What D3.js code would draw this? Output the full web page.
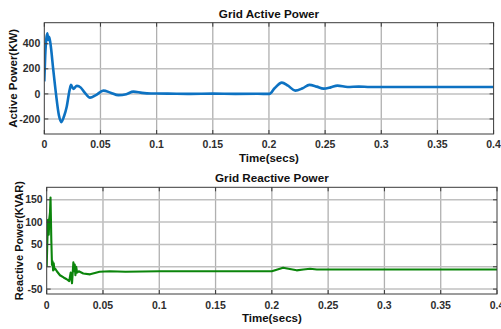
<!DOCTYPE html>
<html>
<head>
<meta charset="utf-8">
<script src="https://cdn.jsdelivr.net/npm/d3@7"></script>
<style>
  body { margin: 0; background: #fff; }
  svg { display: block; font-family: "Liberation Sans", Arial, sans-serif; }
  .tick-label { font-size: 10.5px; font-weight: bold; fill: #2e2e2e; }
  .title, .xlabel, .ylabel { font-weight: bold; fill: #111; }
</style>
</head>
<body>
<svg id="chart"></svg>
<script>
// Data
const xTicks = [0, 0.05, 0.1, 0.15, 0.2, 0.25, 0.3, 0.35, 0.4];
const xTickLabels = ['0', '0.05', '0.1', '0.15', '0.2', '0.25', '0.3', '0.35', '0.4'];

const activeTime = [0, 0.0008, 0.0018, 0.0027, 0.0035, 0.0043, 0.0055, 0.008, 0.0104, 0.013, 0.0152, 0.0175,
    0.02, 0.0225, 0.0238, 0.0258, 0.029, 0.0325, 0.036, 0.0407, 0.046, 0.0526, 0.059, 0.066, 0.073, 0.0793,
    0.087, 0.095, 0.11, 0.13, 0.15, 0.17, 0.19, 0.2, 0.2004, 0.205, 0.2115, 0.217, 0.2234, 0.23, 0.236,
    0.2425, 0.2486, 0.255, 0.261, 0.27, 0.28, 0.29, 0.3, 0.35, 0.4];
const activePower = [100, 300, 440, 484, 430, 456, 400, 191, 0, -170, -225, -180,
    -100, 30, 72, 40, 64, 50, 10, -30, -10, 26, 10, -10, -2, 18,
    8, 3, 2, 0, 2, 0, 1, 0, 0, 45, 90, 65, 26, 45, 72,
    58, 42, 52, 66, 55, 58, 55, 55, 55, 55];
const activeTicks = [-200, 0, 200, 400];

const reactiveTime = [0, 0.0006, 0.0012, 0.0018, 0.0024, 0.0029, 0.0034, 0.0041, 0.0047, 0.0052, 0.0057, 0.0062,
    0.0068, 0.0075, 0.009, 0.0118, 0.015, 0.0178, 0.02, 0.0213, 0.0225, 0.0237, 0.0243, 0.0249, 0.0255,
    0.0262, 0.027, 0.0285, 0.0325, 0.0385, 0.047, 0.056, 0.07, 0.1, 0.15, 0.2, 0.205, 0.21, 0.216,
    0.222, 0.228, 0.234, 0.24, 0.25, 0.3, 0.35, 0.4];
const reactivePower = [0, 60, 105, 72, 110, 120, 155, 60, 4, 12, -8, 8,
    -6, -4, -10, -19, -24, -28, -32, -13, -37, 10, -10, 5, -19,
    0, -13, -10, -15, -17, -11, -10, -11, -10, -10, -10, -6, -2, -5,
    -8, -6, -4.5, -6, -6, -6, -6, -6];
const reactiveTicks = [-50, 0, 50, 100, 150];

const width = 501, height = 329;
const svg = d3.select('#chart').attr('width', width).attr('height', height);

const panels = [
    {
        id: 'p', title: 'Grid Active Power', ylabel: 'Active Power(KW)',
        time: activeTime, values: activePower, yTicks: activeTicks, yDomain: [-320, 568],
        left: 44.3, right: 493.6, top: 22.7, bottom: 134,
        color: '#0d72c2', lineWidth: 2.6, curve: d3.curveMonotoneX,
        titleY: 18, xlabelY: 162, tickY: 148, ylabelX: 16.5, ylabelSize: 11.5
    },
    {
        id: 'q', title: 'Grid Reactive Power', ylabel: 'Reactive Power(KVAR)',
        time: reactiveTime, values: reactivePower, yTicks: reactiveTicks, yDomain: [-61, 178],
        left: 46.7, right: 497, top: 187.3, bottom: 294,
        color: '#0b850b', lineWidth: 2.1, curve: d3.curveLinear,
        titleY: 182, xlabelY: 322, tickY: 308.5, ylabelX: 22.5, ylabelSize: 11
    }
];

panels.forEach(p => {
    const x = d3.scaleLinear().domain([0, 0.4]).range([p.left, p.right]);
    const y = d3.scaleLinear().domain(p.yDomain).range([p.bottom, p.top]);
    const g = svg.append('g');

    // plot background
    g.append('rect')
        .attr('x', p.left).attr('y', p.top)
        .attr('width', p.right - p.left).attr('height', p.bottom - p.top)
        .attr('fill', '#fff');

    // grid
    g.selectAll('.vgrid').data(xTicks.slice(1, -1)).enter().append('line')
        .attr('x1', d => x(d)).attr('x2', d => x(d))
        .attr('y1', p.top).attr('y2', p.bottom)
        .attr('stroke', '#b0b0b0').attr('stroke-width', 1.3);
    g.selectAll('.hgrid').data(p.yTicks).enter().append('line')
        .attr('x1', p.left).attr('x2', p.right)
        .attr('y1', d => y(d)).attr('y2', d => y(d))
        .attr('stroke', '#c0c0c0').attr('stroke-width', 1.5);

    // data line
    g.append('clipPath').attr('id', 'clip-' + p.id)
        .append('rect')
        .attr('x', p.left).attr('y', p.top)
        .attr('width', p.right - p.left).attr('height', p.bottom - p.top);

    const line = d3.line()
        .x((d, i) => x(p.time[i]))
        .y(d => y(d))
        .curve(p.curve);

    g.append('path')
        .datum(p.values)
        .attr('clip-path', `url(#clip-${p.id})`)
        .attr('d', line)
        .attr('fill', 'none')
        .attr('stroke', p.color)
        .attr('stroke-width', p.lineWidth)
        .attr('stroke-linejoin', 'round');

    // box with inner ticks
    g.append('rect')
        .attr('x', p.left).attr('y', p.top)
        .attr('width', p.right - p.left).attr('height', p.bottom - p.top)
        .attr('fill', 'none').attr('stroke', '#3a3a3a').attr('stroke-width', 1);

    const tickLen = 4;
    xTicks.forEach(t => {
        g.append('line').attr('x1', x(t)).attr('x2', x(t))
            .attr('y1', p.bottom).attr('y2', p.bottom - tickLen).attr('stroke', '#3a3a3a');
        g.append('line').attr('x1', x(t)).attr('x2', x(t))
            .attr('y1', p.top).attr('y2', p.top + tickLen).attr('stroke', '#3a3a3a');
    });
    p.yTicks.forEach(t => {
        g.append('line').attr('x1', p.left).attr('x2', p.left + tickLen)
            .attr('y1', y(t)).attr('y2', y(t)).attr('stroke', '#3a3a3a');
        g.append('line').attr('x1', p.right).attr('x2', p.right - tickLen)
            .attr('y1', y(t)).attr('y2', y(t)).attr('stroke', '#3a3a3a');
    });

    // tick labels
    g.selectAll('.xt').data(xTicks).enter().append('text')
        .attr('class', 'tick-label')
        .attr('x', d => x(d)).attr('y', p.tickY)
        .attr('text-anchor', 'middle')
        .text((d, i) => xTickLabels[i]);
    g.selectAll('.yt').data(p.yTicks).enter().append('text')
        .attr('class', 'tick-label')
        .attr('x', p.left - 4).attr('y', d => y(d))
        .attr('dy', '0.35em')
        .attr('text-anchor', 'end')
        .text(d => d);

    // titles and labels
    g.append('text').attr('class', 'title')
        .attr('x', (p.left + p.right) / 2).attr('y', p.titleY)
        .attr('text-anchor', 'middle').attr('font-size', 11.7)
        .text(p.title);
    g.append('text').attr('class', 'xlabel')
        .attr('x', (p.left + p.right) / 2).attr('y', p.xlabelY)
        .attr('text-anchor', 'middle').attr('font-size', 11.5)
        .text('Time(secs)');
    g.append('text').attr('class', 'ylabel')
        .attr('transform', `translate(${p.ylabelX},${(p.top + p.bottom) / 2}) rotate(-90)`)
        .attr('text-anchor', 'middle').attr('font-size', p.ylabelSize)
        .text(p.ylabel);
});
</script>
</body>
</html>
